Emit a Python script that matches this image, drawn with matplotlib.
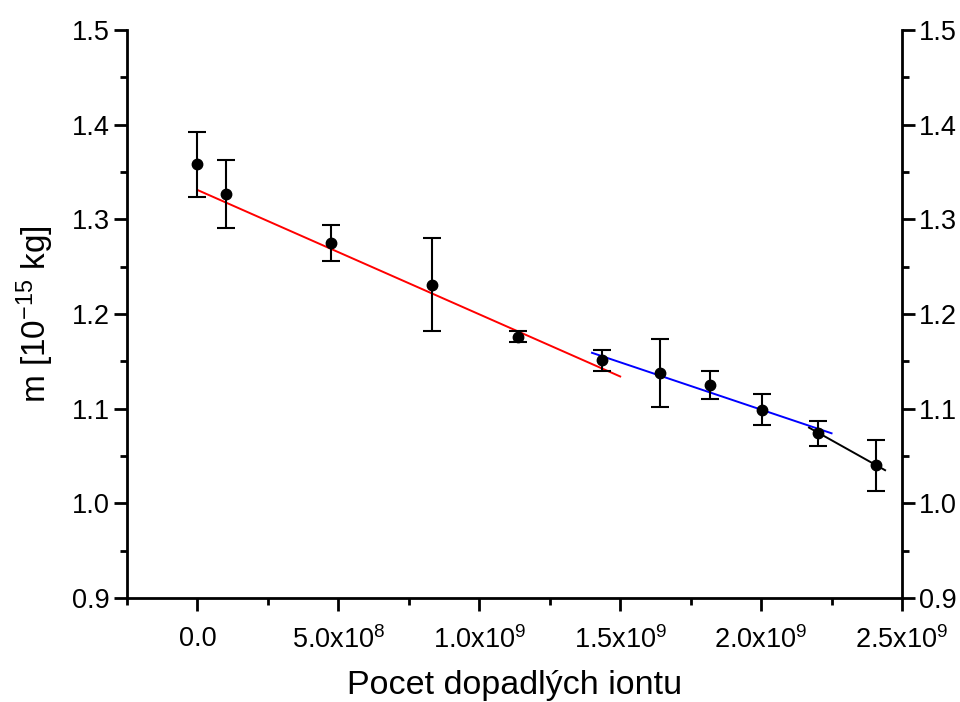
import matplotlib
matplotlib.use("Agg")
import matplotlib.pyplot as plt
from matplotlib.ticker import MultipleLocator, FixedLocator

plt.rcParams['font.family'] = ['Liberation Sans', 'DejaVu Sans']
plt.rcParams['mathtext.fontset'] = 'custom'
plt.rcParams['mathtext.rm'] = 'Liberation Sans'
plt.rcParams['mathtext.it'] = 'Liberation Sans'

# Data
ions = [0.0, 0.10e9, 0.475e9, 0.833e9, 1.138e9, 1.436e9, 1.642e9, 1.819e9, 2.004e9, 2.202e9, 2.408e9]
mass = [1.358, 1.327, 1.275, 1.231, 1.176, 1.151, 1.138, 1.125, 1.099, 1.074, 1.040]
mass_err = [0.034, 0.036, 0.019, 0.049, 0.006, 0.011, 0.036, 0.015, 0.016, 0.013, 0.027]

fit_red_x = [0.0, 1.5e9]
fit_red_y = [1.331, 1.134]
fit_blue_x = [1.40e9, 2.25e9]
fit_blue_y = [1.159, 1.074]
fit_black_x = [2.17e9, 2.44e9]
fit_black_y = [1.080, 1.035]

xtick_vals = [0.0, 0.5e9, 1.0e9, 1.5e9, 2.0e9, 2.5e9]
xtick_labels = ['0.0', r'5.0x10$^{8}$', r'1.0x10$^{9}$', r'1.5x10$^{9}$', r'2.0x10$^{9}$', r'2.5x10$^{9}$']
ytick_vals = [0.9, 1.0, 1.1, 1.2, 1.3, 1.4, 1.5]
ytick_labels = ['0.9', '1.0', '1.1', '1.2', '1.3', '1.4', '1.5']

fig = plt.figure(figsize=(9.6, 7.02), dpi=100)
ax = fig.add_axes([127/960, 104/702, 775/960, 568/702])

ax.plot(fit_red_x, fit_red_y, color='red', lw=1.4, zorder=2)
ax.plot(fit_blue_x, fit_blue_y, color='blue', lw=1.4, zorder=2)
ax.plot(fit_black_x, fit_black_y, color='black', lw=1.4, zorder=2)
ax.errorbar(ions, mass, yerr=mass_err, fmt='o', color='black', ms=7.5,
            capsize=6.5, capthick=1.5, elinewidth=1.5, zorder=3)

ax.set_xlim(-0.25e9, 2.5e9)
ax.set_ylim(0.9, 1.5)
ax.xaxis.set_major_locator(FixedLocator(xtick_vals))
ax.set_xticklabels(xtick_labels, fontsize=19.5)
ax.xaxis.set_minor_locator(MultipleLocator(0.25e9))
ax.set_yticks(ytick_vals)
ax.set_yticklabels(ytick_labels, fontsize=19.5)
ax.yaxis.set_minor_locator(MultipleLocator(0.05))

ax.spines['top'].set_visible(False)
for s in ['left', 'right', 'bottom']:
    ax.spines[s].set_linewidth(2.0)

ax.tick_params(which='both', direction='out', width=2.0, labelsize=19.5)
ax.tick_params(which='major', length=9.5, pad=3)
ax.tick_params(which='minor', length=5)
ax.tick_params(axis='y', which='both', left=True, right=True, labelleft=True, labelright=True)
ax.tick_params(axis='x', which='major', pad=11)

ax.set_xlabel('Pocet dopadlých iontu', fontsize=24.5, labelpad=11)
ax.set_ylabel(r'm [10$^{-15}$ kg]', fontsize=24, labelpad=11)

fig.savefig('out.png', dpi=100)
